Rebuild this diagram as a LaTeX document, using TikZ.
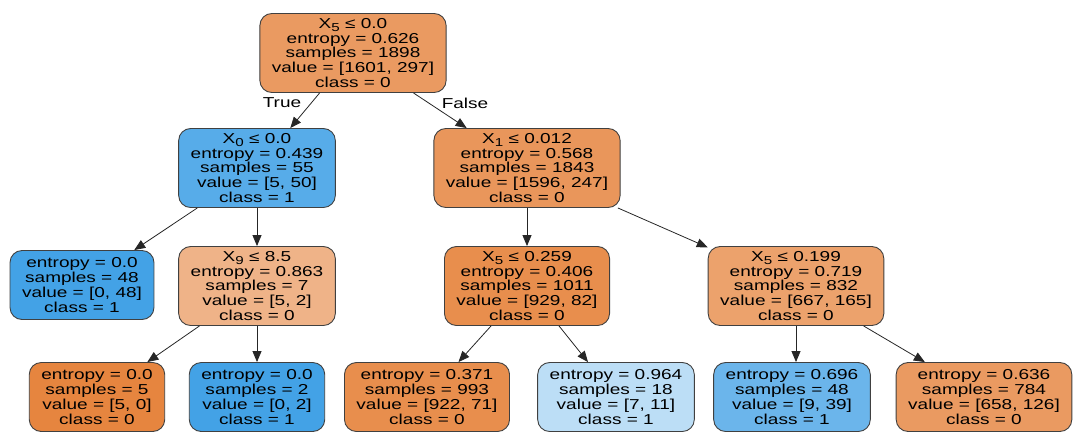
\documentclass[tikz,border=0pt]{standalone}
\usepackage{fontspec}
\newfontfamily\treefont[FakeStretch=1.32]{Liberation Sans}
\usetikzlibrary{arrows.meta}

\definecolor{clsA}{RGB}{229,129,57}
\definecolor{clsB}{RGB}{57,157,229}
\newcommand{\featsub}[1]{\raisebox{-3pt}{\fontsize{11.5}{11.5}\selectfont #1}}

\tikzset{
	box/.style={draw=black!75, line width=0.9pt, rounded corners=12pt, align=center,
		inner xsep=12pt, inner ysep=2pt, font=\treefont\fontsize{14.4}{14.7}\selectfont},
	split/.style={box, minimum height=79pt},
	leaf/.style={box, minimum height=69pt},
	arr/.style={-{Triangle[length=11pt,width=9pt]}, line width=0.8pt, black!85},
	lbl/.style={font=\treefont\fontsize{14.4}{14.7}\selectfont}
}

\begin{document}
\begin{tikzpicture}[x=1pt,y=-1pt]
		\useasboundingbox (0,0) rectangle (1081,432);
		% level 0 and 1
		\node [split, fill=clsA!80!white] (root) at (353,53)
		{X\featsub{5} ≤ 0.0\\entropy = 0.626\\samples = 1898\\value = [1601, 297]\\class = 0};
		\node [split, fill=clsB!85!white] (xzero) at (257,168)
		{X\featsub{0} ≤ 0.0\\entropy = 0.439\\samples = 55\\value = [5, 50]\\class = 1};
		\node [split, fill=clsA!83!white] (xone) at (527,168)
		{X\featsub{1} ≤ 0.012\\entropy = 0.568\\samples = 1843\\value = [1596, 247]\\class = 0};
		% level 2
		\node [leaf, fill=clsB!95!white] (lfa) at (82,285)
		{entropy = 0.0\\samples = 48\\value = [0, 48]\\class = 1};
		\node [split, fill=clsA!60!white] (xnine) at (257,286)
		{X\featsub{9} ≤ 8.5\\entropy = 0.863\\samples = 7\\value = [5, 2]\\class = 0};
		\node [split, fill=clsA!90!white] (xfivea) at (527,286)
		{X\featsub{5} ≤ 0.259\\entropy = 0.406\\samples = 1011\\value = [929, 82]\\class = 0};
		\node [split, fill=clsA!74!white] (xfiveb) at (796,286)
		{X\featsub{5} ≤ 0.199\\entropy = 0.719\\samples = 832\\value = [667, 165]\\class = 0};
		% level 3
		\node [leaf, fill=clsA!97!white] (lfb) at (97,397)
		{entropy = 0.0\\samples = 5\\value = [5, 0]\\class = 0};
		\node [leaf, fill=clsB!95!white] (lfc) at (257,397)
		{entropy = 0.0\\samples = 2\\value = [0, 2]\\class = 1};
		\node [leaf, fill=clsA!90!white] (lfd) at (427,397)
		{entropy = 0.371\\samples = 993\\value = [922, 71]\\class = 0};
		\node [leaf, fill=clsB!34!white] (lfe) at (616,397)
		{entropy = 0.964\\samples = 18\\value = [7, 11]\\class = 1};
		\node [leaf, fill=clsB!75!white] (lff) at (792,397)
		{entropy = 0.696\\samples = 48\\value = [9, 39]\\class = 1};
		\node [leaf, fill=clsA!80!white] (lfg) at (984,397)
		{entropy = 0.636\\samples = 784\\value = [658, 126]\\class = 0};
		% edges
		\draw [arr] (root) -- (xzero);
		\draw [arr] (root) -- (xone);
		\draw [arr] (xzero) -- (lfa);
		\draw [arr] (xzero) -- (xnine);
		\draw [arr] (xone) -- (xfivea);
		\draw [arr] (xone) -- (xfiveb);
		\draw [arr] (xnine) -- (lfb);
		\draw [arr] (xnine) -- (lfc);
		\draw [arr] (xfivea) -- (lfd);
		\draw [arr] (xfivea) -- (lfe);
		\draw [arr] (xfiveb) -- (xfiveb |- lff.north);
		\draw [arr] (xfiveb) -- (lfg);
		\node [lbl] (true) at (282,103) {True};
		\node [lbl] (false) at (465,103) {False};
	\end{tikzpicture}
\end{document}
